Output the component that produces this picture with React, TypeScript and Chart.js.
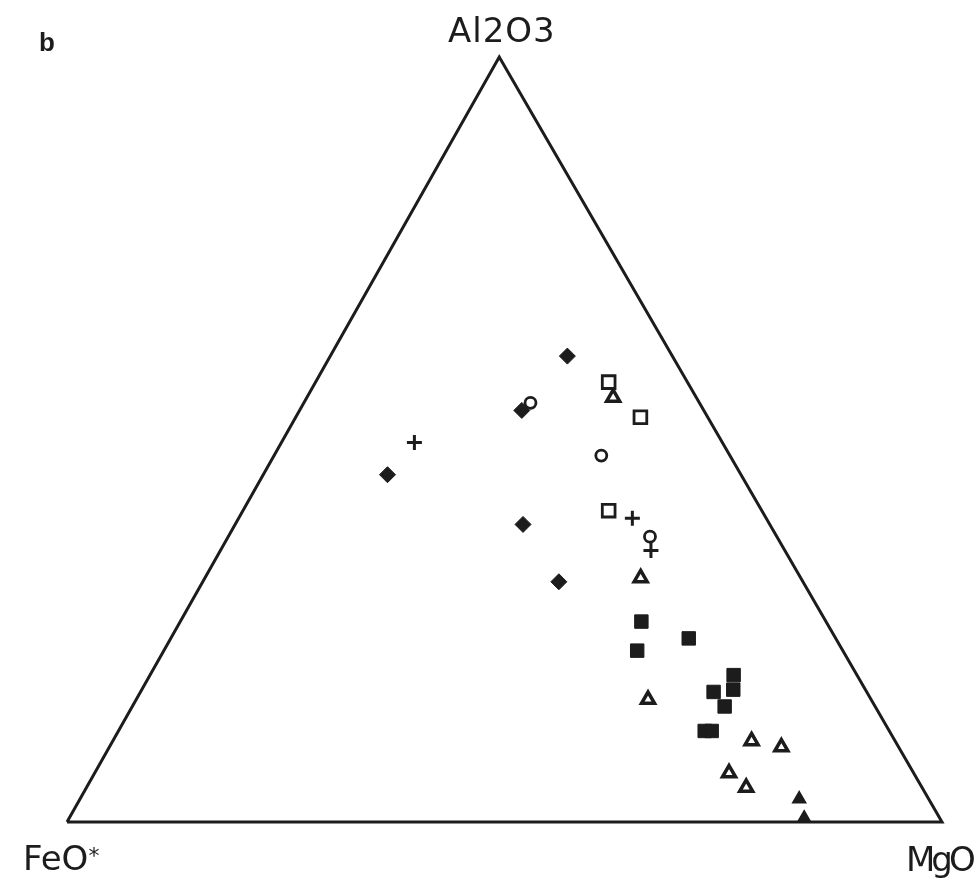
import React, { useEffect, useRef } from "react";
import { Chart, registerables } from "chart.js";

Chart.register(...registerables);

// Ternary compositions: [Al2O3, MgO, FeO*]
const filledDiamonds: number[][] = [
  [60.9, 27.1, 12.0],
  [53.8, 25.4, 20.8],
  [45.4, 14.2, 40.4],
  [38.9, 32.9, 28.2],
  [31.4, 40.7, 27.9],
];
const crosses: number[][] = [
  [49.6, 15.2, 35.2],
  [39.7, 45.0, 15.3],
  [35.5, 49.2, 15.3],
];
const openSquares: number[][] = [
  [57.5, 33.5, 9.0],
  [52.9, 39.4, 7.7],
  [40.7, 41.8, 17.5],
];
const openCircles: number[][] = [
  [54.8, 25.9, 19.3],
  [47.9, 37.4, 14.7],
  [37.3, 48.2, 14.5],
];
const openTriangles: number[][] = [
  [55.5, 35.0, 9.5],
  [31.9, 49.8, 18.3],
  [16.0, 58.5, 25.5],
  [10.6, 73.0, 16.4],
  [9.8, 76.8, 13.4],
  [6.4, 72.5, 21.1],
  [4.5, 75.4, 20.1],
];
const filledTriangles: number[][] = [
  [3.0, 82.2, 14.8],
  [0.5, 84.0, 15.5],
];
const filledSquares: number[][] = [
  [26.2, 52.7, 21.1],
  [22.4, 54.1, 23.5],
  [24.0, 59.2, 16.8],
  [19.2, 66.7, 14.1],
  [17.3, 67.6, 15.1],
  [17.0, 65.5, 17.5],
  [15.1, 67.7, 17.2],
  [11.9, 67.0, 21.1],
  [11.9, 67.8, 20.3],
];
// Triangle corners: FeO*, MgO, Al2O3
const corners: number[][] = [
  [0, 0, 100],
  [0, 100, 0],
  [100, 0, 0],
  [0, 0, 100],
];

const INK = "#1c1c1c";
const APEX = 0.494;

function toXY(rows: number[][]) {
  return rows.map(([a, m, f]) => {
    const t = a + m + f;
    const an = (a / t) * 100;
    const mn = (m / t) * 100;
    return { x: mn + an * APEX, y: an };
  });
}

export default function App() {
  const ref = useRef<HTMLCanvasElement>(null);

  useEffect(() => {
    if (!ref.current) return;
    const base = { showLine: false, clip: false as any };
    const chart = new Chart(ref.current, {
      type: "scatter",
      data: {
        datasets: [
          {
            data: toXY(corners),
            showLine: true,
            borderColor: INK,
            borderWidth: 3,
            pointRadius: 0,
            clip: false as any,
          },
          {
            ...base,
            data: toXY(filledDiamonds),
            pointStyle: "rectRot",
            pointRadius: 8,
            backgroundColor: INK,
            borderColor: INK,
            borderWidth: 1,
          },
          {
            ...base,
            data: toXY(crosses),
            pointStyle: "cross",
            pointRadius: 7.5,
            borderColor: INK,
            borderWidth: 3,
          },
          {
            ...base,
            data: toXY(openSquares),
            pointStyle: "rect",
            pointRadius: 9,
            backgroundColor: "#ffffff",
            borderColor: INK,
            borderWidth: 2.8,
          },
          {
            ...base,
            data: toXY(openCircles),
            pointStyle: "circle",
            pointRadius: 5.5,
            backgroundColor: "#ffffff",
            borderColor: INK,
            borderWidth: 2.8,
          },
          {
            ...base,
            data: toXY(openTriangles),
            pointStyle: "triangle",
            pointRadius: 7.5,
            backgroundColor: "#ffffff",
            borderColor: INK,
            borderWidth: 3.5,
          },
          {
            ...base,
            data: toXY(filledTriangles),
            pointStyle: "triangle",
            pointRadius: 7.5,
            backgroundColor: INK,
            borderColor: INK,
            borderWidth: 1.5,
          },
          {
            ...base,
            data: toXY(filledSquares),
            pointStyle: "rect",
            pointRadius: 9.5,
            backgroundColor: INK,
            borderColor: INK,
            borderWidth: 1,
          },
        ],
      },
      options: {
        responsive: false,
        animation: false,
        devicePixelRatio: 1,
        layout: { padding: { left: 67, right: 34, top: 57, bottom: 58 } },
        scales: {
          x: { type: "linear", min: 0, max: 100, display: false },
          y: { type: "linear", min: 0, max: 100, display: false },
        },
        plugins: {
          legend: { display: false },
          tooltip: { enabled: false },
          title: { display: false },
        },
      },
    });
    return () => chart.destroy();
  }, []);

  const label: React.CSSProperties = {
    position: "absolute",
    fontFamily: "'DejaVu Sans', sans-serif",
    fontSize: 34,
    lineHeight: "34px",
    color: INK,
    whiteSpace: "nowrap",
  };

  return (
    <div
      style={{
        position: "absolute",
        left: 0,
        top: 0,
        width: 976,
        height: 880,
        background: "#ffffff",
        overflow: "hidden",
      }}
    >
      <canvas ref={ref} width={976} height={880} style={{ display: "block" }} />
      <div
        style={{
          ...label,
          left: 39,
          top: 29,
          fontSize: 26,
          lineHeight: "26px",
          fontWeight: "bold",
          fontFamily: "'Liberation Sans', sans-serif",
        }}
      >
        b
      </div>
      <div style={{ ...label, left: 448, top: 13, letterSpacing: "1px" }}>Al2O3</div>
      <div style={{ ...label, left: 23, top: 841 }}>
        FeO<span style={{ fontSize: 22, verticalAlign: "top", position: "relative", top: -2 }}>*</span>
      </div>
      <div style={{ ...label, left: 906, top: 842, letterSpacing: "-4px" }}>MgO</div>
    </div>
  );
}
